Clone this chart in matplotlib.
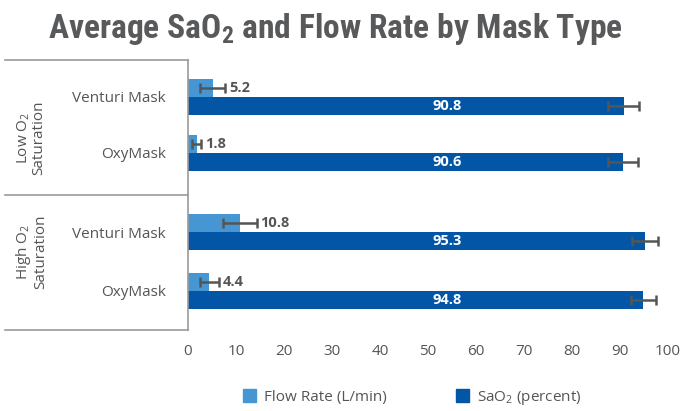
import matplotlib
matplotlib.use("Agg")
import matplotlib.pyplot as plt
from matplotlib.lines import Line2D
from matplotlib.patches import Patch
from matplotlib import font_manager
import numpy as np

# data
masks = ["Venturi Mask", "OxyMask", "Venturi Mask", "OxyMask"]
groups = ["Low O$_2$\nSaturation", "High O$_2$\nSaturation"]
flow = [5.2, 1.8, 10.8, 4.4]
flow_err = [2.6, 0.9, 3.5, 2.0]
sao2 = [90.8, 90.6, 95.3, 94.8]
sao2_err = [3.2, 3.2, 2.7, 2.6]
xticks = [0, 10, 20, 30, 40, 50, 60, 70, 80, 90, 100]

c_flow = "#4596D3"
c_sao2 = "#0356A5"
grey = "#555555"
line_c = "#9a9a9a"

plt.rcParams['font.family'] = ['Open Sans', 'DejaVu Sans']
plt.rcParams['mathtext.default'] = 'regular'

# condensed face for the title if one is there
names = {f.name for f in font_manager.fontManager.ttflist}
title_fam = 'DejaVu Sans'
for cand in ['Liberation Sans Narrow', 'Roboto Condensed', 'DejaVu Sans Condensed']:
    if cand in names:
        title_fam = cand
        break

fig = plt.figure(figsize=(6.88, 4.11), dpi=100)
ax = fig.add_axes([188/688, 1 - 330/411, 480/688, 270/411])

pos = np.array([0, 1, 2.42, 3.47])
h = 0.32
ax.barh(pos - h/2, flow, height=h, color=c_flow, zorder=2)
ax.barh(pos + h/2, sao2, height=h, color=c_sao2, zorder=2)
ax.errorbar(flow, pos - h/2, xerr=flow_err, fmt='none', ecolor=grey,
            elinewidth=1.8, capsize=3.5, capthick=1.8, zorder=3)
ax.errorbar(sao2, pos + h/2, xerr=sao2_err, fmt='none', ecolor=grey,
            elinewidth=1.8, capsize=3.5, capthick=1.8, zorder=3)

for p, v, e in zip(pos, flow, flow_err):
    ax.text(v + e + 0.8, p - h/2, f"{v}", ha='left', va='center',
            fontsize=10.5, fontweight='bold', color=grey)
for p, v in zip(pos, sao2):
    ax.text(54, p + h/2, f"{v}", ha='center', va='center',
            fontsize=10.5, fontweight='bold', color='white', zorder=4)

ax.set_xlim(0, 100)
ax.set_ylim(4.17, -0.655)
ax.set_xticks(xticks)
ax.set_xticklabels([str(t) for t in xticks], fontsize=11, color=grey)
ax.set_yticks(pos)
ax.set_yticklabels(masks, fontsize=11, color=grey)
ax.tick_params(axis='y', length=0, pad=16)
ax.tick_params(axis='x', length=0, pad=10)
for s in ['top', 'right', 'bottom']:
    ax.spines[s].set_visible(False)
ax.spines['left'].set_color(line_c)
ax.spines['left'].set_linewidth(1.2)

# left table lines
for yy in [60, 195, 330]:
    fig.add_artist(Line2D([5/688, 188/688], [1 - yy/411, 1 - yy/411],
                          color=line_c, lw=1.2))

for g, yy in zip(groups, [138, 252]):
    fig.text(31/688, 1 - yy/411, g, rotation=90, ha='center', va='center',
             fontsize=11, color=grey, linespacing=1.0)

t = fig.text(335/688, 1 - 29/411, "Average SaO$_2$ and Flow Rate by Mask Type",
             ha='center', va='center', fontsize=21, fontweight='bold',
             color='#58595b', family=title_fam, fontstretch='condensed')
# scale title to the width it has in the reference (~580 px)
fig.canvas.draw()
w = t.get_window_extent().width
t.set_fontsize(21 * 575 / w)

handles = [Patch(color=c_flow, label="Flow Rate (L/min)"),
           Patch(color=c_sao2, label="SaO$_2$ (percent)")]
fig.legend(handles=handles, loc='center', bbox_to_anchor=(412/688, 1 - 398/411),
           ncol=2, frameon=False, fontsize=11, handlelength=0.9, handleheight=0.9,
           columnspacing=4.5, handletextpad=0.5, labelcolor=grey)

fig.savefig("out.png", dpi=100)
